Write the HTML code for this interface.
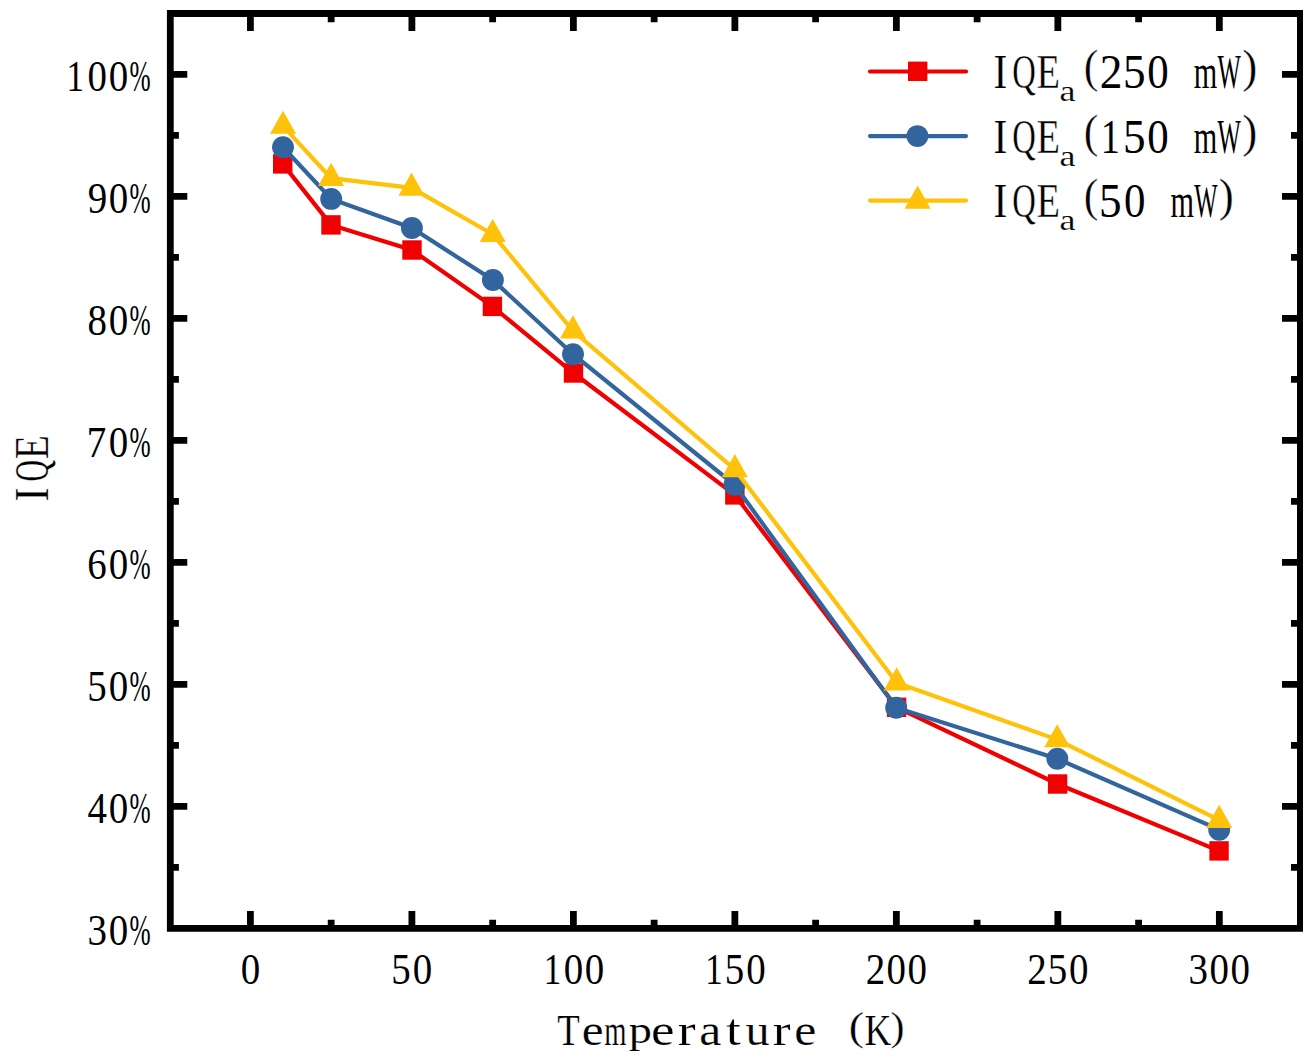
<!DOCTYPE html>
<html><head><meta charset="utf-8"><title>IQE vs Temperature</title><style>
html,body{margin:0;padding:0;background:#fff;width:1314px;height:1062px;overflow:hidden;font-family:"Liberation Serif",serif;}
svg{display:block}
</style></head><body>
<svg width="1314" height="1062" viewBox="0 0 1314 1062">
<rect width="1314" height="1062" fill="#fff"/>
<path d="M282.70,163.90 L331.00,224.90 L412.00,250.00 L492.40,306.40 L573.50,373.00 L734.85,494.90 L896.60,707.30 L1057.60,784.00 L1219.05,850.90" fill="none" stroke="#F00000" stroke-width="4.2" stroke-linejoin="miter" stroke-miterlimit="4"/>
<rect x="273.00" y="154.20" width="19.4" height="19.4" fill="#F00000"/>
<rect x="321.30" y="215.20" width="19.4" height="19.4" fill="#F00000"/>
<rect x="402.30" y="240.30" width="19.4" height="19.4" fill="#F00000"/>
<rect x="482.70" y="296.70" width="19.4" height="19.4" fill="#F00000"/>
<rect x="563.80" y="363.30" width="19.4" height="19.4" fill="#F00000"/>
<rect x="725.15" y="485.20" width="19.4" height="19.4" fill="#F00000"/>
<rect x="886.90" y="697.60" width="19.4" height="19.4" fill="#F00000"/>
<rect x="1047.90" y="774.30" width="19.4" height="19.4" fill="#F00000"/>
<rect x="1209.35" y="841.20" width="19.4" height="19.4" fill="#F00000"/>
<path d="M283.00,147.30 L331.20,198.90 L411.90,228.00 L492.90,280.00 L573.00,354.20 L734.50,484.80 L896.20,707.80 L1057.30,758.80 L1219.20,829.70" fill="none" stroke="#32649E" stroke-width="4.2" stroke-linejoin="miter" stroke-miterlimit="4"/>
<circle cx="283.00" cy="147.30" r="10.95" fill="#32649E"/>
<circle cx="331.20" cy="198.90" r="10.95" fill="#32649E"/>
<circle cx="411.90" cy="228.00" r="10.95" fill="#32649E"/>
<circle cx="492.90" cy="280.00" r="10.95" fill="#32649E"/>
<circle cx="573.00" cy="354.20" r="10.95" fill="#32649E"/>
<circle cx="734.50" cy="484.80" r="10.95" fill="#32649E"/>
<circle cx="896.20" cy="707.80" r="10.95" fill="#32649E"/>
<circle cx="1057.30" cy="758.80" r="10.95" fill="#32649E"/>
<circle cx="1219.20" cy="829.70" r="10.95" fill="#32649E"/>
<path d="M283.00,126.10 L331.10,178.20 L411.50,187.90 L492.70,234.30 L573.00,330.80 L734.80,469.40 L896.70,682.70 L1057.20,739.60 L1219.20,820.20" fill="none" stroke="#FFC20A" stroke-width="4.2" stroke-linejoin="miter" stroke-miterlimit="4"/>
<path d="M283.00,110.63 L296.00,133.83 L270.00,133.83 Z" fill="#FFC20A"/>
<path d="M331.10,162.73 L344.10,185.93 L318.10,185.93 Z" fill="#FFC20A"/>
<path d="M411.50,172.43 L424.50,195.63 L398.50,195.63 Z" fill="#FFC20A"/>
<path d="M492.70,218.83 L505.70,242.03 L479.70,242.03 Z" fill="#FFC20A"/>
<path d="M573.00,315.33 L586.00,338.53 L560.00,338.53 Z" fill="#FFC20A"/>
<path d="M734.80,453.93 L747.80,477.13 L721.80,477.13 Z" fill="#FFC20A"/>
<path d="M896.70,667.23 L909.70,690.43 L883.70,690.43 Z" fill="#FFC20A"/>
<path d="M1057.20,724.13 L1070.20,747.33 L1044.20,747.33 Z" fill="#FFC20A"/>
<path d="M1219.20,804.73 L1232.20,827.93 L1206.20,827.93 Z" fill="#FFC20A"/>
<path d="M166.9,10.0H1303.0V931.8H166.9Z M173.7,16.9V925.0H1297.0V16.9Z M247.00,16.90h6.80v14.00h-6.80zM247.00,911.00h6.80v14.00h-6.80zM327.75,16.90h6.80v5.30h-6.80zM327.75,919.70h6.80v5.30h-6.80zM408.49,16.90h6.80v14.00h-6.80zM408.49,911.00h6.80v14.00h-6.80zM489.24,16.90h6.80v5.30h-6.80zM489.24,919.70h6.80v5.30h-6.80zM569.98,16.90h6.80v14.00h-6.80zM569.98,911.00h6.80v14.00h-6.80zM650.73,16.90h6.80v5.30h-6.80zM650.73,919.70h6.80v5.30h-6.80zM731.47,16.90h6.80v14.00h-6.80zM731.47,911.00h6.80v14.00h-6.80zM812.22,16.90h6.80v5.30h-6.80zM812.22,919.70h6.80v5.30h-6.80zM892.96,16.90h6.80v14.00h-6.80zM892.96,911.00h6.80v14.00h-6.80zM973.71,16.90h6.80v5.30h-6.80zM973.71,919.70h6.80v5.30h-6.80zM1054.45,16.90h6.80v14.00h-6.80zM1054.45,911.00h6.80v14.00h-6.80zM1135.19,16.90h6.80v5.30h-6.80zM1135.19,919.70h6.80v5.30h-6.80zM1215.94,16.90h6.80v14.00h-6.80zM1215.94,911.00h6.80v14.00h-6.80zM173.70,864.00h5.20v6.80h-5.20zM1291.00,864.00h6.00v6.80h-6.00zM173.70,803.00h13.60v6.80h-13.60zM1282.00,803.00h15.00v6.80h-15.00zM173.70,742.00h5.20v6.80h-5.20zM1291.00,742.00h6.00v6.80h-6.00zM173.70,681.00h13.60v6.80h-13.60zM1282.00,681.00h15.00v6.80h-15.00zM173.70,620.00h5.20v6.80h-5.20zM1291.00,620.00h6.00v6.80h-6.00zM173.70,559.00h13.60v6.80h-13.60zM1282.00,559.00h15.00v6.80h-15.00zM173.70,498.00h5.20v6.80h-5.20zM1291.00,498.00h6.00v6.80h-6.00zM173.70,437.00h13.60v6.80h-13.60zM1282.00,437.00h15.00v6.80h-15.00zM173.70,376.00h5.20v6.80h-5.20zM1291.00,376.00h6.00v6.80h-6.00zM173.70,315.00h13.60v6.80h-13.60zM1282.00,315.00h15.00v6.80h-15.00zM173.70,254.00h5.20v6.80h-5.20zM1291.00,254.00h6.00v6.80h-6.00zM173.70,193.00h13.60v6.80h-13.60zM1282.00,193.00h15.00v6.80h-15.00zM173.70,132.00h5.20v6.80h-5.20zM1291.00,132.00h6.00v6.80h-6.00zM173.70,71.00h13.60v6.80h-13.60zM1282.00,71.00h15.00v6.80h-15.00z" fill="#000"/>
<g font-family="Liberation Serif, serif" fill="#000">
<text transform="translate(87.39,945.00) scale(0.8850,1.0000)" font-size="44.00">3</text>
<text transform="translate(108.77,945.00) scale(0.8850,1.0000)" font-size="44.00">0</text>
<text transform="translate(129.43,945.00) scale(0.5766,1.0000)" font-size="44.00">%</text>
<text transform="translate(87.49,823.00) scale(0.8850,1.0000)" font-size="44.00">4</text>
<text transform="translate(108.77,823.00) scale(0.8850,1.0000)" font-size="44.00">0</text>
<text transform="translate(129.43,823.00) scale(0.5766,1.0000)" font-size="44.00">%</text>
<text transform="translate(87.19,701.00) scale(0.8850,1.0000)" font-size="44.00">5</text>
<text transform="translate(108.77,701.00) scale(0.8850,1.0000)" font-size="44.00">0</text>
<text transform="translate(129.43,701.00) scale(0.5766,1.0000)" font-size="44.00">%</text>
<text transform="translate(87.31,579.00) scale(0.8850,1.0000)" font-size="44.00">6</text>
<text transform="translate(108.77,579.00) scale(0.8850,1.0000)" font-size="44.00">0</text>
<text transform="translate(129.43,579.00) scale(0.5766,1.0000)" font-size="44.00">%</text>
<text transform="translate(86.84,457.00) scale(0.8850,1.0000)" font-size="44.00">7</text>
<text transform="translate(108.77,457.00) scale(0.8850,1.0000)" font-size="44.00">0</text>
<text transform="translate(129.43,457.00) scale(0.5766,1.0000)" font-size="44.00">%</text>
<text transform="translate(87.56,335.00) scale(0.8850,1.0000)" font-size="44.00">8</text>
<text transform="translate(108.77,335.00) scale(0.8850,1.0000)" font-size="44.00">0</text>
<text transform="translate(129.43,335.00) scale(0.5766,1.0000)" font-size="44.00">%</text>
<text transform="translate(87.74,213.00) scale(0.8850,1.0000)" font-size="44.00">9</text>
<text transform="translate(108.77,213.00) scale(0.8850,1.0000)" font-size="44.00">0</text>
<text transform="translate(129.43,213.00) scale(0.5766,1.0000)" font-size="44.00">%</text>
<text transform="translate(66.53,91.00) scale(0.7940,1.0000)" font-size="44.00">1</text>
<text transform="translate(87.52,91.00) scale(0.8850,1.0000)" font-size="44.00">0</text>
<text transform="translate(108.72,91.00) scale(0.8850,1.0000)" font-size="44.00">0</text>
<text transform="translate(129.43,91.00) scale(0.5766,1.0000)" font-size="44.00">%</text>
<text transform="translate(240.67,984.10) scale(0.8850,1.0000)" font-size="44.00">0</text>
<text transform="translate(391.28,984.10) scale(0.8850,1.0000)" font-size="44.00">5</text>
<text transform="translate(412.65,984.10) scale(0.8850,1.0000)" font-size="44.00">0</text>
<text transform="translate(543.76,984.10) scale(0.7940,1.0000)" font-size="44.00">1</text>
<text transform="translate(563.64,984.10) scale(0.8850,1.0000)" font-size="44.00">0</text>
<text transform="translate(584.64,984.10) scale(0.8850,1.0000)" font-size="44.00">0</text>
<text transform="translate(705.25,984.10) scale(0.7940,1.0000)" font-size="44.00">1</text>
<text transform="translate(724.76,984.10) scale(0.8850,1.0000)" font-size="44.00">5</text>
<text transform="translate(746.13,984.10) scale(0.8850,1.0000)" font-size="44.00">0</text>
<text transform="translate(865.84,984.10) scale(0.8850,1.0000)" font-size="44.00">2</text>
<text transform="translate(886.62,984.10) scale(0.8850,1.0000)" font-size="44.00">0</text>
<text transform="translate(907.62,984.10) scale(0.8850,1.0000)" font-size="44.00">0</text>
<text transform="translate(1027.33,984.10) scale(0.8850,1.0000)" font-size="44.00">2</text>
<text transform="translate(1047.74,984.10) scale(0.8850,1.0000)" font-size="44.00">5</text>
<text transform="translate(1069.12,984.10) scale(0.8850,1.0000)" font-size="44.00">0</text>
<text transform="translate(1188.43,984.10) scale(0.8850,1.0000)" font-size="44.00">3</text>
<text transform="translate(1209.61,984.10) scale(0.8850,1.0000)" font-size="44.00">0</text>
<text transform="translate(1230.61,984.10) scale(0.8850,1.0000)" font-size="44.00">0</text>
</g>
<g font-family="Liberation Serif, serif" fill="#000">
<text transform="translate(557.14,1045.00) scale(0.8250,1.0000)" font-size="44.60" stroke="#fff" stroke-width="0.220">T</text>
<text transform="translate(581.68,1045.00) scale(1.1025,1.0000)" font-size="44.60" stroke="#fff" stroke-width="0.190">e</text>
<text transform="translate(604.20,1045.00) scale(0.6413,1.0000)" font-size="44.60" stroke="#fff" stroke-width="0.250">m</text>
<text transform="translate(650.93,1045.00) scale(1.1874,1.0000)" font-size="44.60" stroke="#fff" stroke-width="0.184">e</text>
<text transform="translate(677.79,1045.00) scale(1.2000,1.0000)" font-size="44.60" stroke="#fff" stroke-width="0.183">r</text>
<text transform="translate(699.16,1045.00) scale(1.1125,1.0000)" font-size="44.60" stroke="#fff" stroke-width="0.190">a</text>
<text transform="translate(725.96,1045.00) scale(1.2000,1.0000)" font-size="44.60" stroke="#fff" stroke-width="0.183">t</text>
<text transform="translate(745.47,1045.00) scale(1.0788,1.0000)" font-size="44.60" stroke="#fff" stroke-width="0.193">u</text>
<text transform="translate(772.69,1045.00) scale(1.2000,1.0000)" font-size="44.60" stroke="#fff" stroke-width="0.183">r</text>
<text transform="translate(794.36,1045.00) scale(1.1147,1.0000)" font-size="44.60" stroke="#fff" stroke-width="0.189">e</text>
<text transform="translate(864.43,1045.00) scale(0.8337,1.0000)" font-size="44.60" stroke="#fff" stroke-width="0.219">K</text>
<text transform="translate(628.65,1042.78) scale(0.4631,0.3815)" font-size="100.00" stroke="#fff" stroke-width="0.381">p</text>
<text transform="translate(848.68,1039.63) scale(0.4594,0.4025)" font-size="100.00" stroke="#fff" stroke-width="0.698">(</text>
<text transform="translate(890.44,1039.63) scale(0.4205,0.4025)" font-size="100.00" stroke="#fff" stroke-width="0.729">)</text>
<text transform="translate(47.70,494.50) rotate(-90) translate(-7.02,0) scale(0.8630,1.0000)" font-size="48.70" stroke="#fff" stroke-width="0.215">I</text>
<text transform="translate(47.70,470.50) rotate(-90) translate(-11.12,0) scale(0.6122,1.0000)" font-size="48.70" stroke="#fff" stroke-width="0.256">Q</text>
<text transform="translate(47.70,447.50) rotate(-90) translate(-11.69,0) scale(0.8141,1.0000)" font-size="48.70" stroke="#fff" stroke-width="0.222">E</text>
<path d="M870,71.50 H966.0" stroke="#F00000" stroke-width="4.2" stroke-linecap="round"/>
<rect x="908.00" y="61.60" width="19.4" height="19.4" fill="#F00000"/>
<text transform="translate(993.56,88.20) scale(0.8422,1.0000)" font-size="49.00" stroke="#fff" stroke-width="0.163">I</text>
<text transform="translate(1012.16,88.20) scale(0.6669,1.0000)" font-size="49.00" stroke="#fff" stroke-width="0.367">Q</text>
<text transform="translate(1036.39,88.20) scale(0.7861,1.0000)" font-size="49.00" stroke="#fff" stroke-width="0.338">E</text>
<text transform="translate(1059.62,101.20) scale(1.2000,1.0000)" font-size="30.00" stroke="#fff" stroke-width="0.164">a</text>
<text transform="translate(1083.87,82.16) scale(0.4400,0.4621)" font-size="100.00" stroke="#fff" stroke-width="0.776">(</text>
<text transform="translate(1099.70,88.20) scale(0.9265,1.0000)" font-size="49.00">2</text>
<text transform="translate(1123.07,88.20) scale(0.9220,1.0000)" font-size="49.00">5</text>
<text transform="translate(1147.36,88.20) scale(0.8764,1.0000)" font-size="49.00">0</text>
<text transform="translate(1193.87,88.20) scale(0.6168,1.0000)" font-size="49.00">m</text>
<text transform="translate(1217.48,88.20) scale(0.5032,1.0000)" font-size="49.00">W</text>
<text transform="translate(1242.14,82.16) scale(0.4517,0.4621)" font-size="100.00" stroke="#fff" stroke-width="0.766">)</text>
<path d="M870,136.10 H966.0" stroke="#32649E" stroke-width="4.2" stroke-linecap="round"/>
<circle cx="917.40" cy="136.10" r="10.95" fill="#32649E"/>
<text transform="translate(993.56,152.80) scale(0.8422,1.0000)" font-size="49.00" stroke="#fff" stroke-width="0.163">I</text>
<text transform="translate(1012.16,152.80) scale(0.6669,1.0000)" font-size="49.00" stroke="#fff" stroke-width="0.367">Q</text>
<text transform="translate(1036.39,152.80) scale(0.7861,1.0000)" font-size="49.00" stroke="#fff" stroke-width="0.338">E</text>
<text transform="translate(1059.62,165.80) scale(1.2000,1.0000)" font-size="30.00" stroke="#fff" stroke-width="0.164">a</text>
<text transform="translate(1083.87,146.76) scale(0.4400,0.4621)" font-size="100.00" stroke="#fff" stroke-width="0.776">(</text>
<text transform="translate(1100.68,152.80) scale(0.7826,1.0000)" font-size="49.00">1</text>
<text transform="translate(1123.07,152.80) scale(0.9220,1.0000)" font-size="49.00">5</text>
<text transform="translate(1147.36,152.80) scale(0.8764,1.0000)" font-size="49.00">0</text>
<text transform="translate(1193.87,152.80) scale(0.6168,1.0000)" font-size="49.00">m</text>
<text transform="translate(1217.48,152.80) scale(0.5032,1.0000)" font-size="49.00">W</text>
<text transform="translate(1242.14,146.76) scale(0.4517,0.4621)" font-size="100.00" stroke="#fff" stroke-width="0.766">)</text>
<path d="M870,200.60 H966.0" stroke="#FFC20A" stroke-width="4.2" stroke-linecap="round"/>
<path d="M917.60,185.53 L930.60,208.73 L904.60,208.73 Z" fill="#FFC20A"/>
<text transform="translate(993.56,217.30) scale(0.8422,1.0000)" font-size="49.00" stroke="#fff" stroke-width="0.163">I</text>
<text transform="translate(1012.16,217.30) scale(0.6669,1.0000)" font-size="49.00" stroke="#fff" stroke-width="0.367">Q</text>
<text transform="translate(1036.39,217.30) scale(0.7861,1.0000)" font-size="49.00" stroke="#fff" stroke-width="0.338">E</text>
<text transform="translate(1059.62,230.30) scale(1.2000,1.0000)" font-size="30.00" stroke="#fff" stroke-width="0.164">a</text>
<text transform="translate(1083.87,211.26) scale(0.4400,0.4621)" font-size="100.00" stroke="#fff" stroke-width="0.776">(</text>
<text transform="translate(1099.07,217.30) scale(0.9220,1.0000)" font-size="49.00">5</text>
<text transform="translate(1124.06,217.30) scale(0.8764,1.0000)" font-size="49.00">0</text>
<text transform="translate(1170.57,217.30) scale(0.6168,1.0000)" font-size="49.00">m</text>
<text transform="translate(1194.18,217.30) scale(0.5032,1.0000)" font-size="49.00">W</text>
<text transform="translate(1218.84,211.26) scale(0.4517,0.4621)" font-size="100.00" stroke="#fff" stroke-width="0.766">)</text>
</g>
</svg>
</body></html>
